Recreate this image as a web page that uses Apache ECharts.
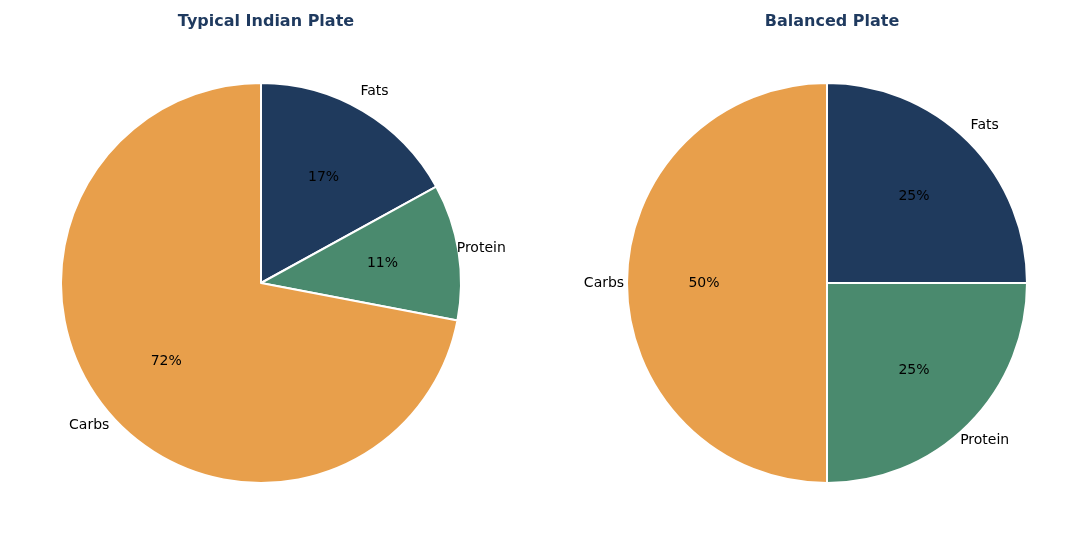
<!DOCTYPE html>
<html><head><meta charset="utf-8">
<script src="https://cdn.jsdelivr.net/npm/echarts@6/dist/echarts.min.js"></script>
<style>html,body{margin:0;padding:0;background:#fff}#c{width:1088px;height:545px}</style>
</head><body><div id="c"></div>
<script>
const categories = ['Fats', 'Protein', 'Carbs'];
const typicalValues = [17, 11, 72];
const balancedValues = [25, 25, 50];
const titles = ['Typical Indian Plate', 'Balanced Plate'];
const colors = ['#1f3a5d', '#4a8a6e', '#e89f4b'];

const centers = [[261, 283], [827, 283]];
const R = 200;
function mk(vals) { return categories.map((n, i) => ({ name: n, value: vals[i] })); }
const series = [];
[typicalValues, balancedValues].forEach((vals, k) => {
  const c = centers[k];
  series.push({
    type: 'pie', center: c, radius: [0, R], startAngle: 90, clockwise: true,
    data: mk(vals), label: { show: false }, labelLine: { show: false },
    itemStyle: { borderColor: '#fff', borderWidth: 2 }, emphasis: { disabled: true }, silent: true
  });
  series.push({
    type: 'pie', center: c, radius: [0, R * 1.2], startAngle: 90, clockwise: true,
    data: mk(vals), silent: true, itemStyle: { color: 'transparent' },
    label: { show: true, position: 'inside', formatter: '{c}%', color: '#000', fontSize: 14, fontFamily: 'DejaVu Sans' },
    labelLine: { show: false }, emphasis: { disabled: true }
  });
  series.push({
    type: 'pie', center: c, radius: [0, R * 2.2], startAngle: 90, clockwise: true,
    data: mk(vals), silent: true, itemStyle: { color: 'transparent' },
    label: { show: true, position: 'inside', formatter: '{b}', color: '#000', fontSize: 14, fontFamily: 'DejaVu Sans' },
    labelLine: { show: false }, emphasis: { disabled: true }
  });
});
const chart = echarts.init(document.getElementById('c'));
chart.setOption({
  animation: false,
  color: colors,
  title: titles.map((t, i) => ({
    text: t, left: centers[i][0], top: 9, textAlign: 'center',
    textStyle: { color: '#1f3a5f', fontSize: 16, fontWeight: 'bold', fontFamily: 'DejaVu Sans' }
  })),
  series
});
</script></body></html>
